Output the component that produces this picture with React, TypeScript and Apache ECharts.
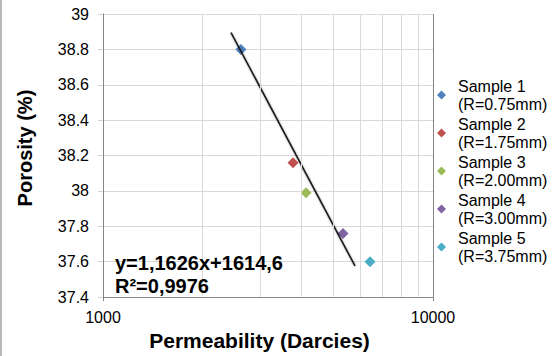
import React, { useEffect, useRef } from "react";
import * as echarts from "echarts";

const sampleNames = [
  "Sample 1\n(R=0.75mm)",
  "Sample 2\n(R=1.75mm)",
  "Sample 3\n(R=2.00mm)",
  "Sample 4\n(R=3.00mm)",
  "Sample 5\n(R=3.75mm)",
];
const sampleColors = ["#4F81BD", "#C0504D", "#9BBB59", "#8064A2", "#4BACC6"];
const permeability = [2618, 3765, 4124, 5337, 6444];
const porosity = [38.8, 38.16, 37.99, 37.76, 37.6];

const trendPermeability = [2443, 5803];
const trendPorosity = [38.895, 37.576];

const xMin = 1000;
const xMax = 10000;
const minorGridValues = [2000, 3000, 4000, 5000, 6000, 7000, 8000, 9000];
const yMin = 37.4;
const yMax = 39;
const yInterval = 0.2;

const equationText = "y=1,1626x+1614,6\nR²=0,9976";
const xTitle = "Permeability (Darcies)";
const yTitle = "Porosity (%)";

const FONT = "'Liberation Sans', Arial, Helvetica, sans-serif";

export default function App() {
  const ref = useRef<HTMLDivElement>(null);

  useEffect(() => {
    if (!ref.current) return;
    const chart = echarts.init(ref.current, undefined, { renderer: "svg" });

    const scatterSeries = sampleNames.map((name, i) => ({
      name,
      type: "scatter",
      symbol: "diamond",
      symbolSize: 11,
      itemStyle: { color: sampleColors[i], opacity: 1 },
      z: 2,
      data: [[permeability[i], porosity[i]]],
    }));

    const option: any = {
      animation: false,
      textStyle: { fontFamily: FONT },
      grid: { left: 103, right: 121, top: 14, bottom: 37, containLabel: false },
      xAxis: {
        type: "log",
        logBase: 10,
        min: xMin,
        max: xMax,
        name: xTitle,
        nameLocation: "middle",
        nameGap: 15,
        nameTextStyle: {
          fontFamily: FONT,
          fontSize: 21,
          fontWeight: "bold",
          color: "#000",
          padding: [0, 17, 0, 0],
        },
        axisLine: { show: true, lineStyle: { color: "#868686", width: 1 } },
        axisTick: { show: true, inside: false, length: 4, lineStyle: { color: "#868686" } },
        splitLine: { show: false },
        axisLabel: {
          fontFamily: FONT,
          fontSize: 16,
          color: "#000",
          margin: 12,
          formatter: (v: number) => String(Math.round(v)),
        },
      },
      yAxis: {
        type: "value",
        min: yMin,
        max: yMax,
        interval: yInterval,
        name: yTitle,
        nameLocation: "middle",
        nameGap: 68,
        nameTextStyle: {
          fontFamily: FONT,
          fontSize: 20,
          fontWeight: "bold",
          color: "#000",
          padding: [0, 0, 0, 15],
        },
        axisLine: { show: true, lineStyle: { color: "#868686", width: 1 } },
        axisTick: { show: true, inside: false, length: 5, lineStyle: { color: "#d0d0d0" } },
        splitLine: { show: true, lineStyle: { color: "#d9d9d9", width: 1 } },
        axisLabel: {
          fontFamily: FONT,
          fontSize: 16,
          color: "#000",
          margin: 14,
          formatter: (v: number) => String(Math.round(v * 10) / 10),
        },
      },
      legend: {
        orient: "vertical",
        left: 437,
        top: 77,
        padding: 0,
        itemWidth: 9,
        itemHeight: 9,
        itemGap: 2,
        icon: "diamond",
        data: sampleNames,
        itemStyle: { opacity: 1 },
        textStyle: {
          fontFamily: FONT,
          fontSize: 16,
          lineHeight: 18,
          color: "#000",
          padding: [0, 0, 0, 7],
        },
      },
      graphic: [
        {
          type: "line",
          shape: { x1: 1, y1: 0, x2: 1, y2: 356 },
          style: { stroke: "#8a8a8a", lineWidth: 1.2 },
          silent: true,
        },
        {
          type: "text",
          left: 115,
          top: 251,
          style: {
            text: equationText,
            fontFamily: FONT,
            fontSize: 20,
            fontWeight: "bold",
            lineHeight: 23,
            fill: "#000",
          },
          z: 10,
        },
      ],
      series: [
        {
          name: "grid",
          type: "line",
          data: [],
          silent: true,
          z: 1,
          markLine: {
            silent: true,
            symbol: ["none", "none"],
            label: { show: false },
            animation: false,
            lineStyle: { color: "#d9d9d9", width: 1, type: "solid" },
            data: [
              ...minorGridValues.map((v) => ({ xAxis: v })),
              { xAxis: xMax, lineStyle: { color: "#868686", width: 1, type: "solid" } },
            ],
          },
        },
        ...scatterSeries,
        {
          name: "trend",
          type: "line",
          showSymbol: false,
          symbol: "none",
          z: 3,
          lineStyle: {
            color: "#1a1a1a",
            width: 1.6,
            shadowColor: "rgba(0,0,0,0.35)",
            shadowBlur: 2,
          },
          data: trendPermeability.map((x, i) => [x, trendPorosity[i]]),
        },
      ],
    };

    chart.setOption(option);
    return () => chart.dispose();
  }, []);

  return (
    <div
      ref={ref}
      style={{ position: "absolute", left: 0, top: 0, width: 554, height: 356, background: "#fff" }}
    />
  );
}
